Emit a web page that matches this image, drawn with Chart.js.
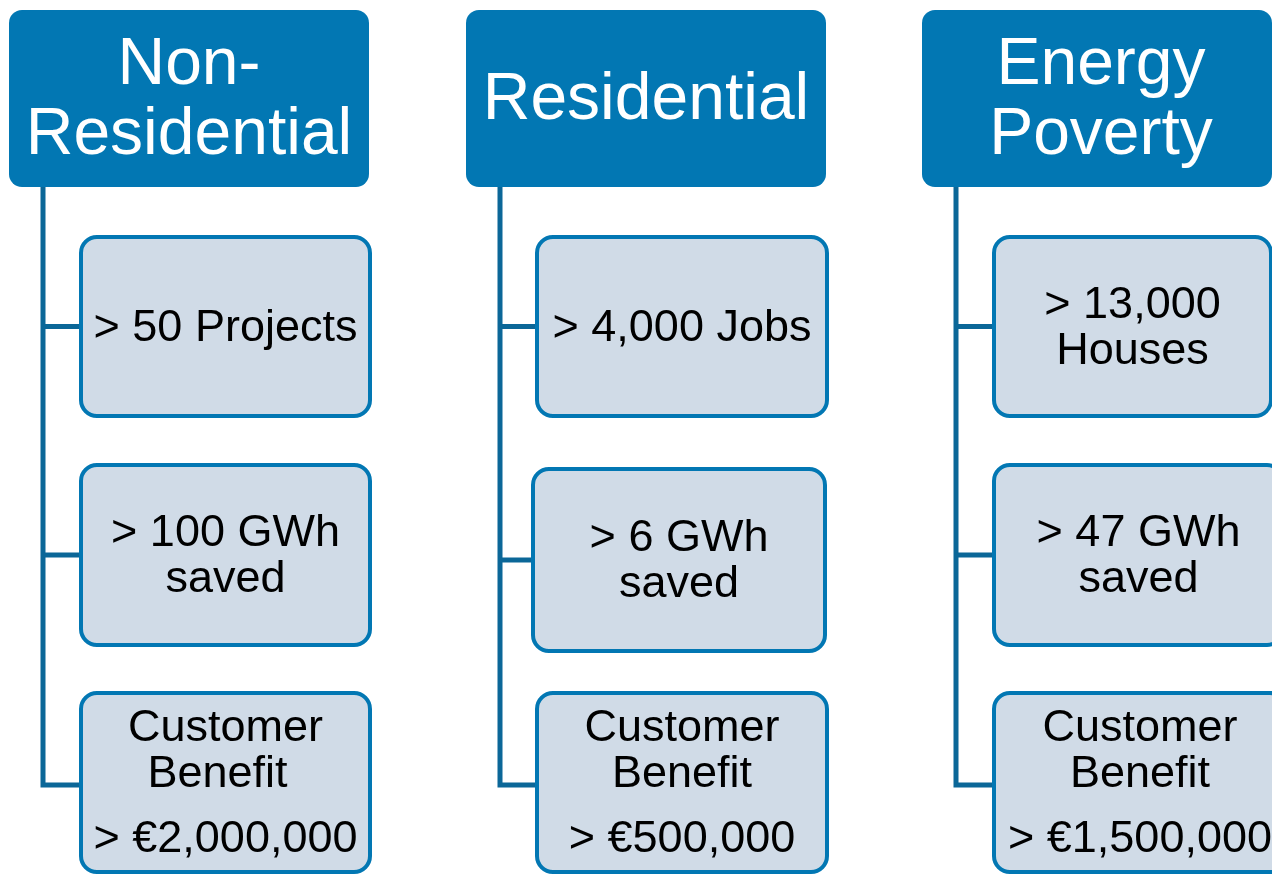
<!DOCTYPE html>
<html>
<head>
<meta charset="utf-8">
<script src="https://cdn.jsdelivr.net/npm/chart.js@4/dist/chart.umd.min.js"></script>
<style>
  html, body { margin: 0; padding: 0; background: #ffffff; }
  #wrap { width: 1272px; height: 874px; }
</style>
</head>
<body>
<div id="wrap"><canvas id="c" width="1272" height="874"></canvas></div>
<script>
// ---- Data (text content of the diagram) ----
const categories = [["Non-", "Residential"], ["Residential"], ["Energy", "Poverty"]];
const metricRow1 = [["> 50 Projects"], ["> 4,000 Jobs"], ["> 13,000", "Houses"]];
const metricRow2 = [["> 100 GWh", "saved"], ["> 6 GWh", "saved"], ["> 47 GWh", "saved"]];
const benefitLabel = ["Customer", "Benefit"];
const benefitValues = ["> €2,000,000", "> €500,000", "> €1,500,000"];

// ---- Layout (in scale units, 1 unit = 1 px of the 1272x874 frame) ----
const headerX = [[9, 369], [466, 826], [922, 1272]];
const headerTextShift = [0, 0, 4];
const headerY = [10, 187];
const spineX = [43, 500, 956];
const childX = [
  [[79, 372], [79, 372], [79, 372]],
  [[535, 829], [531, 827], [535, 829]],
  [[992, 1273], [992, 1285], [992, 1288]]
];
const childY = [
  [[235, 418], [463, 647], [691, 874]],
  [[235, 418], [467, 653], [691, 874]],
  [[235, 418], [463, 647], [691, 874]]
];
// horizontal nudge of the 2nd benefit line per column
const benefitLine2Shift = [-8, 0, 0];

const COL_HEADER = '#0277B3';
const COL_BORDER = '#0277B3';
const COL_FILL = '#D0DBE7';
const COL_LINE = '#0B6798';
const FONT = '"Liberation Sans", Arial, Helvetica, sans-serif';

const diagramPlugin = {
  id: 'diagram',
  afterDraw(chart) {
    const ctx = chart.ctx;
    const xs = chart.scales.x, ys = chart.scales.y;
    const px = v => xs.getPixelForValue(v);
    const py = v => ys.getPixelForValue(v);

    ctx.save();
    // connectors
    ctx.strokeStyle = COL_LINE;
    ctx.lineWidth = 5;
    ctx.lineCap = 'butt';
    ctx.lineJoin = 'miter';
    for (let c = 0; c < 3; c++) {
      const sx = px(spineX[c]);
      const rowsC = childY[c].map(r => py((r[0] + r[1]) / 2));
      const last = py(785);
      ctx.beginPath();
      ctx.moveTo(sx, py(headerY[1]));
      ctx.lineTo(sx, last);
      ctx.lineTo(px(childX[c][2][0]), last);
      ctx.stroke();
      for (let r = 0; r < 2; r++) {
        ctx.beginPath();
        ctx.moveTo(sx, rowsC[r]);
        ctx.lineTo(px(childX[c][r][0]), rowsC[r]);
        ctx.stroke();
      }
    }

    // headers
    for (let c = 0; c < 3; c++) {
      const x0 = px(headerX[c][0]), x1 = px(headerX[c][1]);
      const y0 = py(headerY[0]), y1 = py(headerY[1]);
      ctx.fillStyle = COL_HEADER;
      ctx.beginPath();
      ctx.roundRect(x0, y0, x1 - x0, y1 - y0, 13);
      ctx.fill();
      ctx.fillStyle = '#ffffff';
      ctx.font = '66px ' + FONT;
      ctx.textAlign = 'center';
      ctx.textBaseline = 'alphabetic';
      const lines = categories[c];
      const cx = (x0 + x1) / 2 + headerTextShift[c], cy = (y0 + y1) / 2;
      const first = cy + 20.5 - (lines.length - 1) * 35;
      lines.forEach((t, i) => ctx.fillText(t, cx, first + i * 70));
    }

    // child boxes
    for (let c = 0; c < 3; c++) {
      for (let r = 0; r < 3; r++) {
        const x0 = px(childX[c][r][0]), x1 = px(childX[c][r][1]);
        const y0 = py(childY[c][r][0]), y1 = py(childY[c][r][1]);
        ctx.fillStyle = COL_FILL;
        ctx.strokeStyle = COL_BORDER;
        ctx.lineWidth = 4;
        ctx.beginPath();
        ctx.roundRect(x0 + 2, y0 + 2, x1 - x0 - 4, y1 - y0 - 4, 16);
        ctx.fill();
        ctx.stroke();

        ctx.fillStyle = '#000000';
        ctx.font = '45px ' + FONT;
        ctx.textAlign = 'center';
        ctx.textBaseline = 'alphabetic';
        const cx = (x0 + x1) / 2, cy = (y0 + y1) / 2;
        let lines, offs, shifts;
        if (r === 0) lines = metricRow1[c];
        else if (r === 1) lines = metricRow2[c];
        if (r < 2) {
          offs = lines.map((_, i) => i * 46);
          shifts = lines.map(() => 0);
        } else {
          lines = benefitLabel.concat([benefitValues[c]]);
          offs = [0, 46, 111];
          shifts = [0, benefitLine2Shift[c], 0];
        }
        const mid = (offs[0] + offs[offs.length - 1]) / 2;
        const first = cy + 14 - mid;
        lines.forEach((t, i) => ctx.fillText(t, cx + shifts[i], first + offs[i]));
      }
    }
    ctx.restore();
  }
};

new Chart(document.getElementById('c'), {
  type: 'scatter',
  data: { datasets: [{ data: [], showLine: false }] },
  options: {
    responsive: false,
    animation: false,
    layout: { padding: 0 },
    plugins: { legend: { display: false }, tooltip: { enabled: false }, title: { display: false } },
    scales: {
      x: { type: 'linear', min: 0, max: 1272, display: false },
      y: { type: 'linear', min: 0, max: 874, reverse: true, display: false }
    }
  },
  plugins: [diagramPlugin]
});
</script>
</body>
</html>
